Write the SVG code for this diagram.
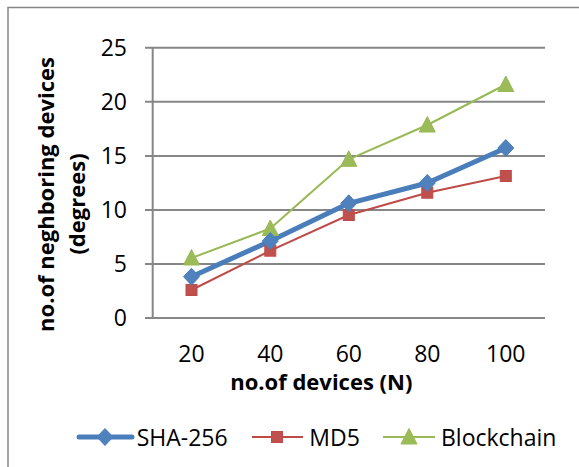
<svg xmlns="http://www.w3.org/2000/svg" width="579" height="467" viewBox="0 0 579 467">
<defs>
<style>
.lbl{font-family:"Open Sans","Liberation Sans",sans-serif;font-size:23px;fill:#000}
.ttl{font-family:"Open Sans","Liberation Sans",sans-serif;font-size:22px;font-weight:bold;fill:#000}
.grid{stroke:#868686;stroke-width:2;fill:none}
.sha{stroke:#4A7EBB;stroke-width:5;fill:none;stroke-linejoin:round;stroke-linecap:round}
.md5{stroke:#BE4B48;stroke-width:2;fill:none;stroke-linejoin:round}
.blk{stroke:#98B954;stroke-width:2;fill:none;stroke-linejoin:round}
.dia{fill:#4F81BD;stroke:#4A7EBB;stroke-width:1}
.sq{fill:#C0504D;stroke:#BE4B48;stroke-width:1}
.tri{fill:#9BBB59;stroke:#98B954;stroke-width:1}
</style>
<path id="mDia" d="M0,-8.5 L8,0 L0,8.5 L-8,0 Z"/>
<rect id="mSq" x="-5.5" y="-5.5" width="11" height="11"/>
<path id="mTri" d="M0,-8.5 L8,7 L-8,7 Z"/>
</defs>
<rect width="579" height="467" fill="#fff"/>
<rect x="8" y="7.5" width="600" height="500" fill="none" stroke="#868686" stroke-width="1.5"/>

<g id="axes">
<path class="grid" d="M145,47.7H545M145,101.8H545M145,155.9H545M145,209.9H545M145,264H545M145,318H545M152.7,47.7V318"/>
<g class="lbl" text-anchor="end">
<text x="127" y="56">25</text>
<text x="127" y="110">20</text>
<text x="127" y="164">15</text>
<text x="127" y="218">10</text>
<text x="127" y="272">5</text>
<text x="127" y="326">0</text>
</g>
<g class="lbl" text-anchor="middle">
<text x="191.5" y="361.5">20</text>
<text x="270.3" y="361.5">40</text>
<text x="348.8" y="361.5">60</text>
<text x="427.3" y="361.5">80</text>
<text x="505.8" y="361.5">100</text>
</g>
<text class="ttl" x="321.3" y="390" text-anchor="middle">no.of devices (N)</text>
<text class="ttl" transform="translate(54,194.5) rotate(-90)" text-anchor="middle">no.of neghboring devices</text>
<text class="ttl" transform="translate(85,204) rotate(-90)" text-anchor="middle">(degrees)</text>
</g>

<g id="connectors">
<polyline class="blk" points="191.5,258 270.3,228.5 348.8,159.3 427.3,125 505.8,84.5"/>
<polyline class="md5" points="191.5,290 270.3,250.7 348.8,215 427.3,192.7 505.8,176"/>
<polyline class="sha" points="191.5,276.7 270.3,241 348.8,203.3 427.3,183 505.8,148"/>
</g>

<g id="series-blockchain">
<use href="#mTri" class="tri" x="191.5" y="258"/>
<use href="#mTri" class="tri" x="270.3" y="228.5"/>
<use href="#mTri" class="tri" x="348.8" y="159.3"/>
<use href="#mTri" class="tri" x="427.3" y="125"/>
<use href="#mTri" class="tri" x="505.8" y="84.5"/>
</g>
<g id="series-md5">
<use href="#mSq" class="sq" x="191.5" y="290"/>
<use href="#mSq" class="sq" x="270.3" y="250.7"/>
<use href="#mSq" class="sq" x="348.8" y="215"/>
<use href="#mSq" class="sq" x="427.3" y="192.7"/>
<use href="#mSq" class="sq" x="505.8" y="176"/>
</g>
<g id="series-sha256">
<use href="#mDia" class="dia" x="191.5" y="276.7"/>
<use href="#mDia" class="dia" x="270.3" y="241"/>
<use href="#mDia" class="dia" x="348.8" y="203.3"/>
<use href="#mDia" class="dia" x="427.3" y="183"/>
<use href="#mDia" class="dia" x="505.8" y="148"/>
</g>

<g id="legend">
<g id="legend-sha256">
<line x1="79" y1="437" x2="132" y2="437" class="sha" stroke-width="4"/>
<use href="#mDia" class="dia" x="105" y="437"/>
<text class="lbl" x="136.7" y="446">SHA-256</text>
</g>
<g id="legend-md5">
<line x1="252" y1="437" x2="303" y2="437" class="md5"/>
<use href="#mSq" class="sq" x="277" y="437"/>
<text class="lbl" x="309.3" y="446">MD5</text>
</g>
<g id="legend-blockchain">
<line x1="383" y1="437" x2="435" y2="437" class="blk"/>
<use href="#mTri" class="tri" x="409" y="437"/>
<text class="lbl" x="441" y="446">Blockchain</text>
</g>
</g>
</svg>
